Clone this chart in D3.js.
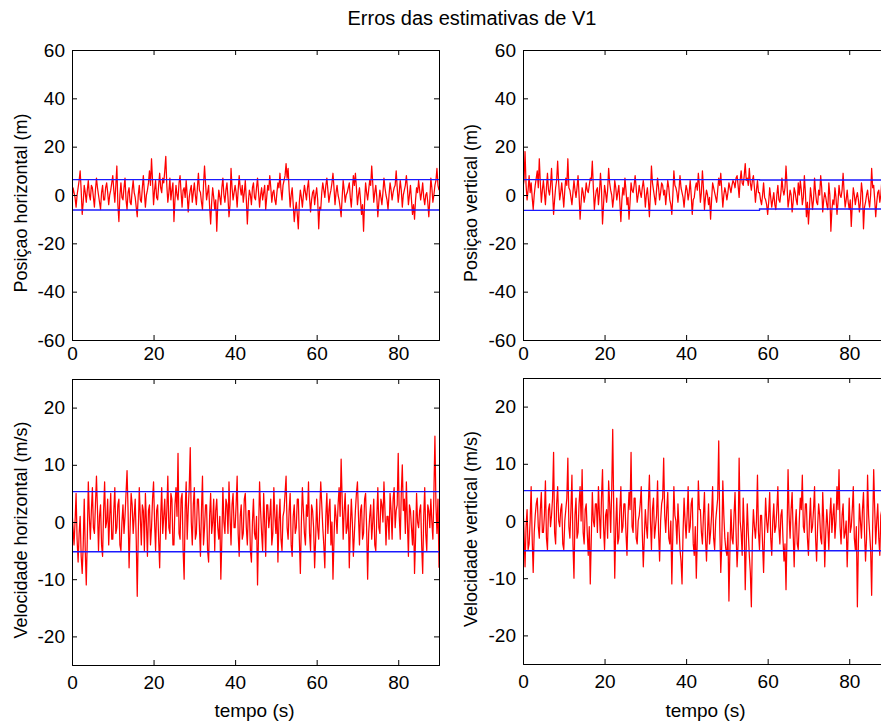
<!DOCTYPE html>
<html><head><meta charset="utf-8">
<script src="https://cdn.jsdelivr.net/npm/d3@7"></script>
<style>
html,body{margin:0;padding:0;background:#fff;overflow:hidden;}
svg{display:block;font-family:"Liberation Sans",Arial,sans-serif;}
</style></head>
<body>
<svg id="c" width="881" height="722"></svg>
<script>
const title = "Erros das estimativas de V1";
const xLabel = "tempo (s)";
const yLabels = ["Posiçao horizontal (m)", "Posiçao vertical (m)", "Velocidade horizontal (m/s)", "Velocidade vertical (m/s)"];
const xTicks = [0, 20, 40, 60, 80];
const posTicks = [-60, -40, -20, 0, 20, 40, 60];
const velTicks = [-20, -10, 0, 10, 20];
const timeStep = 0.25;

const posHorizontal = [
 -2,3, 1,-1, -5,0, 3,6, 10,2, -8,-3, 4,1, -3,2, 6,0, -2,4,
 3,-1, -5,2, 7,3, 0,-3, -6,1, 4,-2, -2,3, 5,1, -4,0, 2,5,
 8,2, -3,4, 12,-4, -11,0, 5,-1, -2,3, 7,-2, -6,1, 3,-3, -4,2,
 6,1, -1,-5, -9,0, 4,-2, -3,3, 8,1, -5,0, 2,5, 10,4, 15,6,
 -4,2, 6,-1, -2,4, 9,3, 1,7, 5,10, 16,4, -3,1, 7,-2, 2,5,
 -11,-2, 4,0, -2,5, 8,1, -5,2, 3,-1, 6,0, -7,-1, 2,4, -3,1,
 5,0, -4,3, 9,2, 1,-3, -6,4, 12,5, -2,1, 4,-5, -12,-3, 3,-1,
 -6,-2, -15,-4, 2,-1, -4,3, 7,0, -3,2, 5,-1, -9,-4, 11,3, -2,1,
 4,1, -5,2, 8,3, 0,4, -3,1, 6,-2, -12,-3, 2,0, -4,3, 5,-1,
 -2,3, 7,1, -5,0, 3,-2, 1,4, -6,-1, 4,2, 8,3, -3,1, 2,-2,
 -4,1, 5,3, 9,2, -2,4, 6,8, 13,7, 11,2, -5,0, 3,-4, -11,-6,
 -3,-8, -14,-3, 2,-1, -5,0, 4,1, -2,3, 6,-1, -7,-2, 1,2, -4,0,
 3,-2, -14,-5, -6,1, 5,2, -1,4, 7,2, -3,0, 2,5, 9,3, -4,1,
 4,0, -2,-5, -9,-1, 6,2, -3,0, 1,3, 5,-1, -5,2, 8,4, 9,3,
 -4,0, 3,-2, -8,-4, -15,-3, 5,1, -2,2, 6,4, 12,5, -3,1, 4,-1,
 -9,-3, 2,-1, -4,1, 7,3, 0,-2, -6,0, 5,2, -2,1, 3,4, 10,3,
 -3,1, 6,2, -5,0, 2,4, 8,3, -4,0, 4,-2, -8,-4, -10,-2, 3,1,
 6,2, -2,1, 5,-1, -4,0, 1,-3, -9,-2, 7,3, -3,0, 4,6, 11,4,
 2];
const posVertical = [
 3,6, 18,4, -2,2, 8,1, 5,-1, -6,0, 4,7, 10,3, 15,5, -3,2,
 6,1, -4,3, 9,2, 0,4, 11,1, -8,-2, 3,6, 14,5, -2,1, 5,0,
 -5,2, 7,4, 15,3, 2,-1, -4,1, 6,2, -1,3, 8,0, -10,-3, 3,1,
 -3,0, 5,2, 1,4, 7,6, 14,3, -6,-1, 2,3, -4,1, 9,2, -12,-4,
 4,1, -3,2, 11,5, 2,0, -5,-1, 6,3, -2,1, 4,-3, -11,-2, 3,0,
 7,2, -4,-1, -10,-3, 5,2, 1,4, 8,3, -3,0, 4,1, -1,3, 6,2,
 -5,0, 3,-2, -9,1, 12,5, 2,-1, -4,2, 7,3, -2,1, 5,4, 0,2,
 -4,1, 6,3, -2,-4, -8,0, 10,4, 3,1, -3,2, 8,3, 1,-1, -5,0,
 4,2, -2,1, 6,0, -8,-2, -1,3, 5,2, 9,4, -3,1, 10,3, -6,-1,
 2,0, -4,-1, -10,-2, 5,3, 1,-1, -3,2, 7,4, 9,2, -5,0, 3,1,
 -2,1, 5,3, 1,4, 6,5, 3,7, 8,4, -1,6, 10,5, 4,8, 13,6,
 7,4, 11,5, 2,6, 8,3, -3,2, 6,1, 1,-2, -4,0, 5,-1, -2,-4,
 -8,-3, 3,-1, -5,-2, 1,-4, -6,0, 4,-2, -3,1, 7,2, 0,3, 12,4,
 -5,-2, 2,0, -7,-3, 3,1, -2,-4, 5,0, 6,2, -4,-1, 8,1, -9,-3,
 -12,-5, 3,-1, -6,-2, 7,1, -3,-4, 2,0, 8,3, -7,-2, 1,-1, -4,-6,
 5,0, -15,-6, -2,-4, 3,-1, -8,-3, 4,0, -1,2, 9,1, -5,-2, 2,-3,
 -6,-2, -13,-4, 3,0, -4,-1, 1,-2, -7,-3, 5,1, -14,-5, -3,0, 2,-2,
 -5,0, 11,3, 4,-2, -9,-3, 1,2, -3,0, 6,2, 0,4, 9,3, -2,1,
 3];
const velHorizontal = [
 2,-1, -4,0, 5,-3, -7,-2, 1,-6, -9,-4, 4,-5, -11,-3, 7,1, -3,2,
 6,-1, -2,3, 8,2, -5,1, 3,-4, -6,2, 7,-1, 0,4, -4,1, 5,-3,
 -3,2, 6,-2, -1,3, 4,-4, -5,0, 3,-2, 1,5, 9,2, -8,-1, 5,3,
 -2,1, 4,-3, -13,-2, 6,1, -4,3, 2,-5, 5,0, -6,2, 3,-4, -1,4,
 7,0, -5,2, 3,-3, -8,1, 6,-2, 1,4, -3,2, 8,-1, -2,5, 4,-4,
 -4,3, 6,1, 12,-2, -3,4, 5,-5, -10,2, 7,-3, 2,6, 13,0, -4,3,
 6,-3, -2,4, 4,-1, -6,2, 8,-4, -1,3, 3,-5, -7,1, 5,-2, 0,4,
 -5,2, 4,-1, -3,1, -10,-3, 6,0, -2,4, 3,-2, 7,1, -4,3, 5,-1,
 -1,3, 8,-2, -6,1, 3,-3, -2,4, 5,-1, -4,2, 2,-5, -7,0, 4,-2,
 -3,1, -11,-2, 7,2, -2,-5, 5,0, -6,3, 3,-1, 1,4, -4,-2, 6,1,
 -2,3, -7,0, 4,-3, -5,1, 2,5, 8,-1, -3,2, 5,-4, -6,1, 3,-2,
 -1,4, 4,-3, -9,0, 6,2, -2,-4, 3,1, 7,-2, -5,3, 2,-1, -8,-3,
 4,-1, -3,2, 7,3, -1,-4, -8,1, 5,-2, 2,4, -4,0, -10,-3, 3,1,
 -2,3, 6,1, 11,4, -3,2, 5,-2, -1,3, -8,-1, 4,0, -6,-2, 2,5,
 7,1, -4,2, 3,-3, -2,4, 5,-1, -10,-2, 1,3, -3,0, 4,-4, -5,1,
 6,-1, -2,4, 3,0, 7,2, -4,1, 1,-3, 5,2, -3,4, 6,-1, 2,3,
 12,1, -3,5, 10,2, 4,-2, 7,0, -6,3, 2,-1, -4,2, -9,-3, 5,0,
 -1,2, 3,-4, -9,1, 6,-2, -5,3, 2,-1, 4,0, -3,5, 15,3, -2,4,
 -8];
const velVertical = [
 3,-2, -8,-1, 2,-5, -4,0, 6,-3, -9,-2, 1,3, 4,-1, -3,2, 5,-2,
 -2,1, 7,-3, -5,2, 3,-1, 1,4, 12,-2, -4,3, 6,0, -1,2, 3,-4,
 -5,0, 2,4, 11,-1, -3,2, 8,-4, -10,1, 4,-3, -2,3, 6,0, 9,-2,
 -4,2, 3,-2, -6,-1, -11,-3, 5,0, -1,3, 3,-2, 6,1, -3,4, 9,-1,
 -5,1, 2,-3, 7,3, -2,5, 16,2, -10,-1, 4,-4, -3,2, 6,-2, -1,3,
 3,-2, -6,1, 5,2, 12,-1, -2,4, 4,-3, -4,0, 1,3, 6,-2, -8,-3,
 2,-1, -3,3, 8,0, -5,2, 4,-3, -1,1, 7,-2, -7,0, 3,4, 11,1,
 -2,2, 5,-3, -4,0, -11,-2, 6,1, 0,-4, 3,-1, -5,-7, -11,-2, 4,0,
 -3,1, 6,-2, -1,3, 4,-4, -6,-1, -10,-3, 7,2, 2,-2, -4,1, 5,-3,
 -7,-2, 3,-4, -2,1, 6,-3, -5,0, 2,4, 14,-1, -9,-4, 7,1, -3,-5,
 -6,-2, -14,-5, 2,-3, -4,1, 5,-2, -8,-4, 11,0, -2,-6, 4,-1, -12,-4,
 3,-2, -6,-9, -15,-3, 2,-1, -3,0, 8,-2, -5,1, 1,-4, -9,-2, 4,0,
 -2,1, 5,-3, -6,0, 3,-2, -1,2, 6,-1, -4,1, 2,-3, -7,-4, -12,-2,
 9,1, -3,2, 5,-2, -8,-1, 2,-4, -5,0, 4,2, 8,-1, -2,3, 3,-3,
 -6,0, 4,-2, -1,2, 6,-3, -7,-1, 3,1, -3,-4, 5,0, -8,-2, 2,-1,
 -5,1, 4,-2, 1,3, -3,0, 6,2, 9,-1, -4,1, 3,-3, -2,0, -8,-2,
 4,-2, -1,2, 6,-3, -5,-1, -15,-4, 3,0, -3,2, 5,-2, -7,-3, 8,1,
 -2,-5, -13,-1, 9,2, -4,0, 3,-3, -6,1, 2,3, 7,-2, -3,1, 4,-1,
 0];

// error bounds (blue lines): [time, upper, lower]
const boundsPosH = [[0, 6.4, -6.2], [90, 6.4, -6.2]];
const boundsPosV = [[0, 6.4, -6.4], [58, 6.4, -6.4], [58, 6.2, -5.8], [90, 6.2, -5.8]];
const boundsVelH = [[0, 5.3, -5.2], [90, 5.3, -5.2]];
const boundsVelV = [[0, 5.3, -5.2], [90, 5.3, -5.2]];

const svg = d3.select("#c");
svg.append("text").attr("x", 472).attr("y", 25).attr("text-anchor", "middle")
  .attr("font-size", 20).attr("fill", "#000").text(title);

const panels = [
  {data: posHorizontal, bounds: boundsPosH, yDom: [-60, 60], ticks: posTicks, x0: 72, y0: 50, y1: 340, label: yLabels[0], lx: 21, xl: false, pad: 7},
  {data: posVertical, bounds: boundsPosV, yDom: [-60, 60], ticks: posTicks, x0: 523, y0: 50, y1: 340, label: yLabels[1], lx: 471, xl: false, pad: 7},
  {data: velHorizontal, bounds: boundsVelH, yDom: [-25, 25], ticks: velTicks, x0: 72, y0: 379, y1: 665, label: yLabels[2], lx: 21, xl: true, pad: 11},
  {data: velVertical, bounds: boundsVelV, yDom: [-25, 25], ticks: velTicks, x0: 523, y0: 378, y1: 664, label: yLabels[3], lx: 471, xl: true, pad: 11}
];
const plotW = 367;
const fmt = d => String(d);

panels.forEach((p, i) => {
  const x = d3.scaleLinear().domain([0, 90]).range([p.x0, p.x0 + plotW]);
  const y = d3.scaleLinear().domain(p.yDom).range([p.y1, p.y0]);
  const g = svg.append("g");
  const clipId = "clip" + i;
  svg.append("clipPath").attr("id", clipId).append("rect")
    .attr("x", p.x0).attr("y", p.y0).attr("width", plotW).attr("height", p.y1 - p.y0);

  const pts = p.data.map((v, k) => [k * timeStep, v]);
  const line = d3.line().x(d => x(d[0])).y(d => y(d[1]));
  g.append("path").attr("clip-path", `url(#${clipId})`).datum(pts)
    .attr("d", line).attr("fill", "none").attr("stroke", "#ff0000").attr("stroke-width", 1.25)
    .attr("stroke-linejoin", "round");

  const up = d3.line().x(d => x(d[0])).y(d => y(d[1]));
  const lo = d3.line().x(d => x(d[0])).y(d => y(d[2]));
  g.append("path").attr("clip-path", `url(#${clipId})`).datum(p.bounds).attr("d", up)
    .attr("fill", "none").attr("stroke", "#1a1aff").attr("stroke-width", 1.3);
  g.append("path").attr("clip-path", `url(#${clipId})`).datum(p.bounds).attr("d", lo)
    .attr("fill", "none").attr("stroke", "#1a1aff").attr("stroke-width", 1.3);

  const ax = (sel) => sel.selectAll("text").attr("font-size", 19).attr("fill", "#000")
    .attr("font-family", "Liberation Sans, Arial, sans-serif");
  const bottom = g.append("g").attr("transform", `translate(0,${p.y1})`)
    .call(d3.axisBottom(x).tickValues(xTicks).tickSize(-5).tickPadding(p.pad).tickFormat(fmt));
  ax(bottom);
  const top = g.append("g").attr("transform", `translate(0,${p.y0})`)
    .call(d3.axisTop(x).tickValues(xTicks).tickSize(-5).tickFormat(""));
  const left = g.append("g").attr("transform", `translate(${p.x0},0)`)
    .call(d3.axisLeft(y).tickValues(p.ticks).tickSize(-5).tickPadding(7).tickFormat(fmt));
  ax(left);
  const right = g.append("g").attr("transform", `translate(${p.x0 + plotW},0)`)
    .call(d3.axisRight(y).tickValues(p.ticks).tickSize(-5).tickFormat(""));
  [bottom, top, left, right].forEach(a => {
    a.select(".domain").attr("stroke", "#000").attr("stroke-width", 1);
    a.selectAll(".tick line").attr("stroke", "#000");
  });

  g.append("text").attr("transform", `translate(${p.lx},${(p.y0 + p.y1) / 2 + 8}) rotate(-90)`)
    .attr("text-anchor", "middle").attr("dy", "0.35em").attr("font-size", 18).attr("fill", "#000").text(p.label);
  if (p.xl) {
    g.append("text").attr("x", p.x0 + plotW / 2 - 1).attr("y", 717).attr("text-anchor", "middle")
      .attr("font-size", 19).attr("fill", "#000").text(xLabel);
  }
});
</script>
</body></html>
